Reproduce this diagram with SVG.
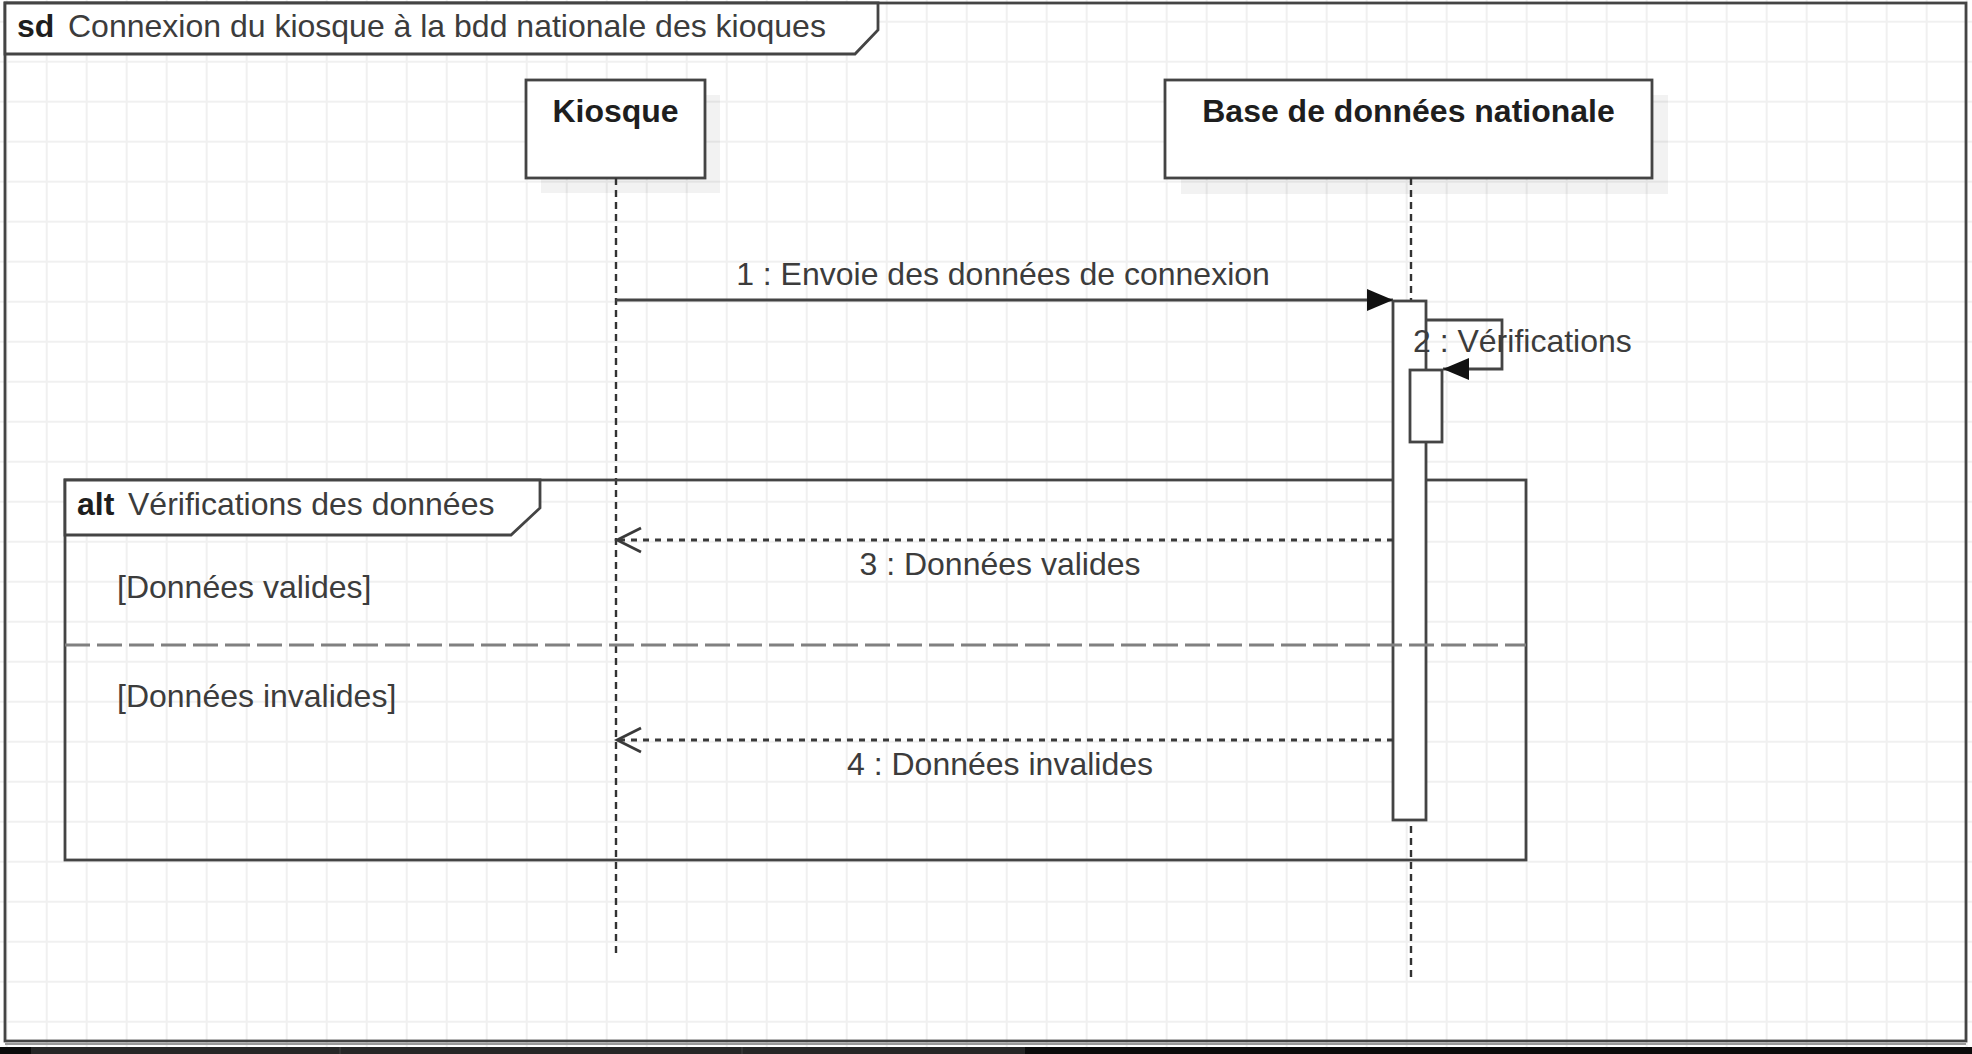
<svg xmlns="http://www.w3.org/2000/svg" width="1972" height="1054" viewBox="0 0 1972 1054">
<style>
.t{font-family:"Liberation Sans",Arial,Helvetica,sans-serif;font-size:32px;fill:#3c3c3c}
.b{font-weight:bold;fill:#1e1e1e}
.ln{fill:none;stroke:#444;stroke-width:2.8}
.box{fill:#fff;stroke:#444;stroke-width:2.8}
.sh{fill:#000;fill-opacity:0.05}
.life{fill:none;stroke:#333;stroke-width:2.4;stroke-dasharray:7 5}
.ret{fill:none;stroke:#3a3a3a;stroke-width:3;stroke-dasharray:6 6}
.sep{fill:none;stroke:#808080;stroke-width:3.2;stroke-dasharray:25 7}
</style>
<defs>
<pattern id="grid" x="5.7" y="20.7" width="40" height="40" patternUnits="userSpaceOnUse">
<path d="M1 0V40M0 1H40" fill="none" stroke="#f0f0f0" stroke-width="2"/>
</pattern>
<marker id="fill" markerUnits="userSpaceOnUse" viewBox="0 0 26 22" refX="26" refY="11" markerWidth="26" markerHeight="22" orient="auto">
<path d="M0 0L26 11L0 22Z" fill="#111" stroke="none"/>
</marker>
<marker id="open" markerUnits="userSpaceOnUse" viewBox="-2 -2 30 30" refX="25" refY="12" markerWidth="30" markerHeight="30" orient="auto">
<path d="M1 0L25 12L1 24" fill="none" stroke="#3a3a3a" stroke-width="2.8" stroke-dasharray="none"/>
</marker>
</defs>

<rect x="0" y="0" width="1972" height="1054" fill="#fff"/>
<rect x="0" y="0" width="1972" height="1054" fill="url(#grid)"/>

<g id="screen-bottom">
<rect x="0" y="1047" width="1972" height="7" fill="#0b0b0b"/>
<rect x="31" y="1047" width="994" height="7" fill="#262626"/>
<line x1="340" y1="1047" x2="340" y2="1054" stroke="#3a3a3a" stroke-width="1.5"/>
<line x1="742" y1="1047" x2="742" y2="1054" stroke="#3a3a3a" stroke-width="1.5"/>
</g>

<g id="frame-sd">
<line x1="5" y1="1044" x2="1966" y2="1044" stroke="#9a9a9a" stroke-width="2"/>
<rect x="5" y="3" width="1961" height="1038" class="ln"/>
<path d="M5 3H878V30L855 54H5Z" class="box"/>
<text x="17" y="37" class="t b">sd</text>
<text x="68" y="37" class="t">Connexion du kiosque à la bdd nationale des kioques</text>
</g>

<g id="kiosque">
<rect x="541" y="95" width="179" height="98" class="sh"/>
<rect x="526" y="80" width="179" height="98" class="box"/>
<text x="615.5" y="122" text-anchor="middle" class="t b">Kiosque</text>
<line x1="616" y1="178" x2="616" y2="953" class="life"/>
</g>

<g id="bdd-nationale">
<rect x="1181" y="95" width="487" height="99" class="sh"/>
<rect x="1165" y="80" width="487" height="98" class="box"/>
<text x="1408.5" y="122" text-anchor="middle" class="t b">Base de données nationale</text>
<line x1="1411" y1="178" x2="1411" y2="978" class="life"/>
</g>

<g id="alt-fragment">
<rect x="65" y="480" width="1461" height="380" class="ln"/>
<path d="M65 480H540V508L511 535H65Z" class="box"/>
<text x="77" y="515" class="t b">alt</text>
<text x="128" y="515" class="t">Vérifications des données</text>
<text x="117" y="598" class="t">[Données valides]</text>
<text x="117" y="707" class="t">[Données invalides]</text>
</g>

<g id="activation-bdd">
<rect x="1393" y="301" width="33" height="519" class="box"/>
</g>

<g id="alt-separator">
<line x1="65" y1="645" x2="1526" y2="645" class="sep"/>
</g>

<g id="activation-verif">
<rect x="1410" y="370" width="32" height="72" class="box"/>
</g>

<g id="connectors">
<line x1="616" y1="300" x2="1393" y2="300" class="ln" marker-end="url(#fill)"/>
<text x="1003" y="285" text-anchor="middle" class="t">1 : Envoie des données de connexion</text>
<path d="M1426 320H1502V369H1443" class="ln" marker-end="url(#fill)"/>
<text x="1413" y="352" class="t">2 : Vérifications</text>
<line x1="1393" y1="540" x2="617" y2="540" class="ret" marker-end="url(#open)"/>
<text x="1000" y="575" text-anchor="middle" class="t">3 : Données valides</text>
<line x1="1393" y1="740" x2="617" y2="740" class="ret" marker-end="url(#open)"/>
<text x="1000" y="775" text-anchor="middle" class="t">4 : Données invalides</text>
</g>
</svg>
